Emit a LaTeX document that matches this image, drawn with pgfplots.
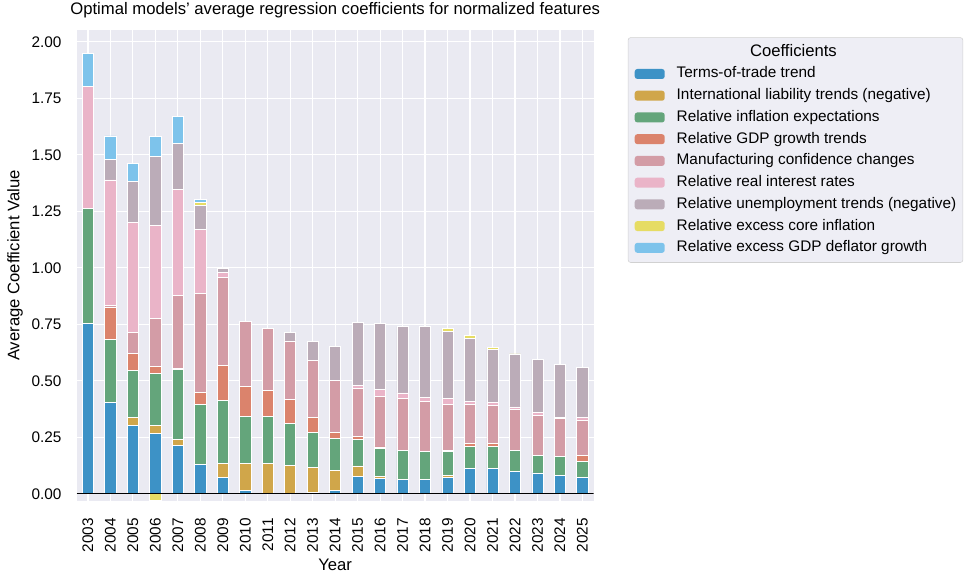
\documentclass[border=0pt]{standalone}
\usepackage{fontspec}
\setmainfont{Liberation Sans}
\usepackage{pgfplots}
\usepackage{pgfplotstable}
\pgfplotsset{compat=1.18}

\definecolor{bgcol}{HTML}{EAEAF2}
\definecolor{legbg}{HTML}{EEEEF5}
\definecolor{totcol}{HTML}{3D92C6}
\definecolor{iltcol}{HTML}{D0A64A}
\definecolor{riecol}{HTML}{64A57B}
\definecolor{gdpcol}{HTML}{DB836C}
\definecolor{mfgcol}{HTML}{D39CA6}
\definecolor{rircol}{HTML}{EAB4C8}
\definecolor{unecol}{HTML}{BBACB8}
\definecolor{corecol}{HTML}{E6DC64}
\definecolor{deflcol}{HTML}{7DC3EB}

% average coefficients per year (2006 core inflation is -0.03, drawn separately)
\pgfplotstableread{
x  tot   ilt   rie   gdp   mfg   rir   une   core  defl
0  0.755 0     0.509 0     0     0.540 0     0     0.146
1  0.404 0     0.280 0.140 0.010 0.555 0.090 0     0.104
2  0.302 0.037 0.207 0.076 0.093 0.485 0.182 0     0.080
3  0.267 0.034 0.231 0.031 0.214 0.410 0.306 0     0.088
4  0.214 0.028 0.310 0.004 0.322 0.470 0.202 0     0.120
5  0.130 0     0.265 0.055 0.435 0.283 0.108 0.012 0.013
6  0.074 0.062 0.277 0.156 0.387 0.022 0.018 0     0
7  0.015 0.121 0.206 0.133 0.287 0     0     0     0
8  0     0.136 0.206 0.115 0.273 0     0     0     0
9  0     0.127 0.183 0.109 0.257 0     0.038 0     0
10 0.005 0.113 0.152 0.068 0.252 0     0.083 0     0
11 0.016 0.089 0.141 0.024 0.231 0     0.151 0     0
12 0.077 0.046 0.119 0.010 0.214 0.012 0.280 0     0
13 0.068 0.008 0.125 0.006 0.224 0.029 0.292 0     0
14 0.062 0.003 0.127 0     0.231 0.023 0.294 0     0
15 0.065 0     0.124 0     0.221 0.018 0.312 0     0
16 0.072 0.008 0.108 0.003 0.206 0.024 0.298 0.012 0
17 0.112 0     0.096 0.016 0.170 0.013 0.280 0.014 0
18 0.111 0     0.097 0.016 0.167 0.015 0.233 0.009 0
19 0.100 0     0.093 0     0.179 0.012 0.231 0.004 0
20 0.092 0     0.076 0     0.180 0.012 0.233 0     0
21 0.083 0     0.081 0     0.169 0.005 0.234 0     0
22 0.072 0     0.071 0.025 0.159 0.012 0.220 0     0
}\coeftable

\pgfplotsset{
  common/.style={
    scale only axis,
    width=387.75pt, height=353.25pt,
    at={(57.5pt,61.5pt)}, anchor=south west,
    xmin=-0.5, xmax=22.5,
    ymin=-0.032, ymax=2.052,
  },
  barsty/.style={fill=#1, draw=white, line width=0.5pt},
}

\begin{document}
\begin{tikzpicture}
\useasboundingbox (0,0) rectangle (728.25pt,437.25pt);
\begin{axis}[
  common,
  ybar stacked, bar width=0.5,
  axis background/.style={fill=bgcol},
  axis line style={draw=none},
  major tick length=0pt,
  grid=major,
  major grid style={white, line width=0.9pt},
  xtick={0,...,22},
  xticklabels={2003,2004,2005,2006,2007,2008,2009,2010,2011,2012,2013,2014,2015,2016,2017,2018,2019,2020,2021,2022,2023,2024,2025},
  ytick={0,0.25,0.5,0.75,1,1.25,1.5,1.75,2},
  /pgf/number format/.cd, fixed, fixed zerofill, precision=2, assume math mode=true, /pgfplots/.cd,
  tick label style={font=\fontsize{11.5}{13}\selectfont},
  xticklabel style={yshift=-12.75pt, rotate=90, anchor=east, inner sep=0pt},
  yticklabel style={xshift=-11.25pt, anchor=east, inner sep=0pt},
  title={Optimal models' average regression coefficients for normalized features},
  title style={at={(axis description cs:0.5,1)}, anchor=base, yshift=5.6pt, font=\fontsize{12.5}{14}\selectfont},
  xlabel={Year},
  ylabel={Average Coefficient Value},
  every axis x label/.style={at={(axis description cs:0.5,-0.136)}, anchor=center, font=\fontsize{12.5}{14}\selectfont},
  every axis y label/.style={at={(axis description cs:-0.119,0.5)}, rotate=90, anchor=center, font=\fontsize{12.5}{14}\selectfont},
  legend image code/.code={\fill[#1, draw=none] (0pt,-3.75pt) rectangle (22.5pt,3.75pt);},
  legend cell align=left,
  legend style={
    at={(1.066,0.9845)}, anchor=north west,
    fill=legbg, draw=black!18, rounded corners=2pt,
    font=\fontsize{11.5}{13}\selectfont,
    nodes={inner sep=0pt, text height=8.5pt, text depth=2.5pt},
    row sep=5.3pt, column sep=9pt,
    inner xsep=5pt, inner ysep=5.5pt,
  },
]
\addlegendimage{empty legend}
\addlegendentry{\hspace*{55pt}\fontsize{12.5}{14}\selectfont Coefficients}
\addplot[barsty=totcol]  table[x=x, y=tot]  {\coeftable};
\addlegendentry{Terms-of-trade trend}
\addplot[barsty=iltcol]  table[x=x, y=ilt]  {\coeftable};
\addlegendentry{International liability trends (negative)}
\addplot[barsty=riecol]  table[x=x, y=rie]  {\coeftable};
\addlegendentry{Relative inflation expectations}
\addplot[barsty=gdpcol]  table[x=x, y=gdp]  {\coeftable};
\addlegendentry{Relative GDP growth trends}
\addplot[barsty=mfgcol]  table[x=x, y=mfg]  {\coeftable};
\addlegendentry{Manufacturing confidence changes}
\addplot[barsty=rircol]  table[x=x, y=rir]  {\coeftable};
\addlegendentry{Relative real interest rates}
\addplot[barsty=unecol]  table[x=x, y=une]  {\coeftable};
\addlegendentry{Relative unemployment trends (negative)}
\addplot[barsty=corecol] table[x=x, y=core] {\coeftable};
\addlegendentry{Relative excess core inflation}
\addplot[barsty=deflcol] table[x=x, y=defl] {\coeftable};
\addlegendentry{Relative excess GDP deflator growth}
\end{axis}
% negative part of the stack and the zero line
\begin{axis}[common, hide axis]
\addplot[ybar, bar width=0.5, bar shift=0pt, barsty=corecol] coordinates {(3,-0.03)};
\addplot[black, line width=0.9pt] coordinates {(-0.5,0) (22.5,0)};
\end{axis}
\end{tikzpicture}
\end{document}
